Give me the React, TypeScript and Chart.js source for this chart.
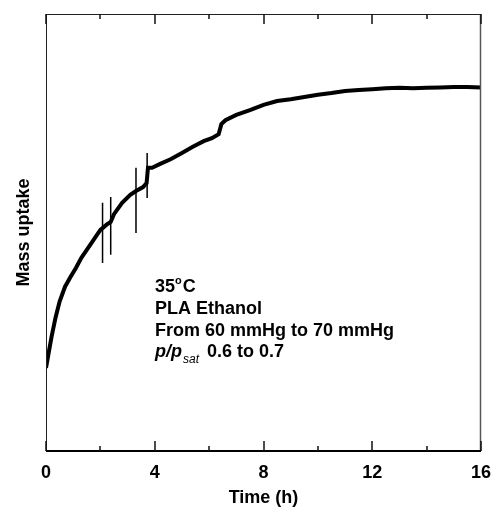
import React, { useEffect, useRef } from "react";
import { Chart, registerables } from "chart.js";

Chart.register(...registerables);

// Time (h)
const timeH = [0, 0.1, 0.2, 0.35, 0.5, 0.7, 0.9, 1.1, 1.3, 1.5, 1.75, 1.9, 2.0, 2.08, 2.25, 2.38, 2.5, 2.8, 3.1, 3.31, 3.57, 3.7, 3.75, 3.9, 4.2, 4.6, 5.0, 5.4, 5.8, 6.1, 6.35, 6.45, 6.6, 7.0, 7.5, 8.0, 8.5, 9.0, 9.5, 10, 10.5, 11, 11.5, 12, 12.5, 13, 13.5, 14, 14.5, 15, 15.5, 16];
// Mass uptake (arbitrary units, 0-100 of axis height)
const massUptake = [19.0, 22.5, 26.0, 30.5, 34.2, 37.6, 39.8, 41.9, 44.2, 46.0, 48.3, 49.7, 50.6, 51.0, 51.9, 52.4, 54.2, 56.8, 58.6, 59.5, 60.4, 61.3, 64.8, 64.8, 65.7, 66.8, 68.2, 69.6, 70.9, 71.6, 72.5, 74.8, 75.7, 76.9, 78.0, 79.2, 80.1, 80.5, 81.0, 81.5, 81.9, 82.4, 82.6, 82.8, 83.0, 83.1, 83.0, 83.1, 83.2, 83.3, 83.3, 83.2];

// Measurement spikes
const spikeTimes = [2.08, 2.38, 3.31, 3.72];
const spikeTops = [56.8, 58.1, 64.8, 68.2];
const spikeBottoms = [43.0, 44.9, 49.9, 57.9];

// Axis ticks
const majorTicks = [0, 4, 8, 12, 16];
const minorTicks = [2, 6, 10, 14];

const FONT = 'Arial, "Liberation Sans", sans-serif';

const framePlugin = {
  id: "frame",
  afterDraw(chart: any) {
    const { ctx, chartArea } = chart;
    const { left, right, top, bottom } = chartArea;
    const xs = chart.scales.x;
    ctx.save();
    ctx.strokeStyle = "#222";
    // left
    ctx.lineWidth = 1;
    ctx.beginPath();
    ctx.moveTo(left + 0.5, top);
    ctx.lineTo(left + 0.5, bottom);
    ctx.stroke();
    // top
    ctx.beginPath();
    ctx.moveTo(left, top + 0.5);
    ctx.lineTo(right, top + 0.5);
    ctx.stroke();
    // right
    ctx.strokeStyle = "#555";
    ctx.lineWidth = 1.5;
    ctx.beginPath();
    ctx.moveTo(right - 0.5, top);
    ctx.lineTo(right - 0.5, bottom);
    ctx.stroke();
    // bottom
    ctx.strokeStyle = "#000";
    ctx.lineWidth = 2;
    ctx.beginPath();
    ctx.moveTo(left, bottom);
    ctx.lineTo(right, bottom);
    ctx.stroke();
    // ticks
    ctx.lineWidth = 1.5;
    ctx.strokeStyle = "#111";
    const drawTick = (v: number, len: number) => {
      const px = Math.round(xs.getPixelForValue(v));
      ctx.beginPath();
      ctx.moveTo(px, bottom);
      ctx.lineTo(px, bottom - len);
      ctx.moveTo(px, top);
      ctx.lineTo(px, top + len);
      ctx.stroke();
    };
    majorTicks.forEach((v) => drawTick(v, 10));
    minorTicks.forEach((v) => drawTick(v, 5));

    // annotation text
    ctx.fillStyle = "#000";
    ctx.textBaseline = "alphabetic";
    ctx.textAlign = "left";
    const x0 = 155;
    const bold = `bold 18px ${FONT}`;
    // line 1: 35°C
    let x = x0;
    let y = 292;
    ctx.font = bold;
    ctx.fillText("35", x, y);
    x += ctx.measureText("35").width;
    ctx.font = `bold 11px ${FONT}`;
    ctx.fillText("o", x, y - 8);
    x += ctx.measureText("o").width + 1;
    ctx.font = bold;
    ctx.fillText("C", x, y);
    // line 2
    ctx.fillText("PLA Ethanol", x0, 314);
    // line 3
    ctx.fillText("From 60 mmHg to 70 mmHg", x0, 336);
    // line 4
    y = 357;
    x = x0;
    ctx.font = `italic bold 18px ${FONT}`;
    ctx.fillText("p/p", x, y);
    x += ctx.measureText("p/p").width + 1;
    ctx.font = `italic 12px ${FONT}`;
    ctx.fillText("sat", x, y + 6);
    x += ctx.measureText("sat").width + 3;
    ctx.font = bold;
    ctx.fillText(" 0.6 to 0.7", x, y);
    ctx.restore();
  },
};

export default function App() {
  const ref = useRef<HTMLCanvasElement | null>(null);
  useEffect(() => {
    if (!ref.current) return;
    const spikeData: any[] = [];
    spikeTimes.forEach((t, i) => {
      spikeData.push({ x: t, y: spikeTops[i] });
      spikeData.push({ x: t, y: spikeBottoms[i] });
      spikeData.push({ x: t, y: null });
    });
    const chart = new Chart(ref.current, {
      type: "line",
      data: {
        datasets: [
          {
            data: timeH.map((t, i) => ({ x: t, y: massUptake[i] })),
            borderColor: "#000",
            borderWidth: 4,
            pointRadius: 0,
            tension: 0,
            fill: false,
          },
          {
            data: spikeData,
            borderColor: "#000",
            borderWidth: 1.5,
            pointRadius: 0,
            spanGaps: false,
            fill: false,
          },
        ],
      },
      options: {
        animation: false,
        responsive: false,
        devicePixelRatio: 1,
        layout: { padding: { top: 14, right: 13, left: 0, bottom: 0 } },
        plugins: { legend: { display: false }, tooltip: { enabled: false } },
        scales: {
          x: {
            type: "linear",
            min: 0,
            max: 16,
            grid: { display: false },
            border: { display: false },
            ticks: {
              stepSize: 4,
              padding: 3,
              color: "#000",
              font: { family: FONT, size: 18, weight: "bold" },
              maxRotation: 0,
            },
            title: {
              display: true,
              text: "Time (h)",
              color: "#000",
              font: { family: FONT, size: 18, weight: "bold" },
              padding: { top: 0, bottom: 0 },
            },
            afterFit: (s: any) => {
              s.height = 58;
              s.paddingLeft = 0;
              s.paddingRight = 0;
            },
          },
          y: {
            type: "linear",
            min: 0,
            max: 100,
            grid: { display: false },
            border: { display: false },
            ticks: { display: false },
            title: {
              display: true,
              text: "Mass uptake",
              color: "#000",
              font: { family: FONT, size: 18, weight: "bold" },
              padding: { top: 13, bottom: 0 },
            },
            afterFit: (s: any) => {
              s.width = 46;
            },
          },
        },
      },
      plugins: [framePlugin],
    });
    return () => chart.destroy();
  }, []);
  return (
    <div style={{ position: "absolute", left: 0, top: 0, width: 494, height: 509, background: "#fff" }}>
      <canvas ref={ref} width={494} height={509} />
    </div>
  );
}
